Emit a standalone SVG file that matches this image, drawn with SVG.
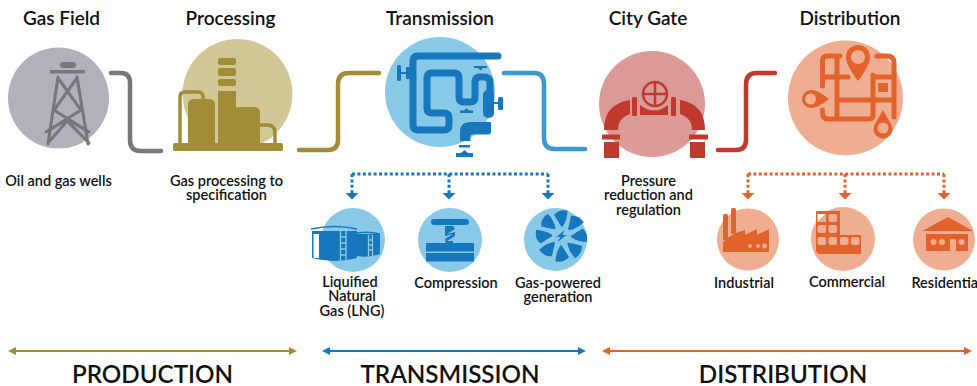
<svg xmlns="http://www.w3.org/2000/svg" width="977" height="386" viewBox="0 0 977 386">
<style>
text{font-family:"Lato","Open Sans","Liberation Sans",sans-serif;fill:#111;text-anchor:middle}
.t{font-size:19px;font-weight:600}
.l{font-size:14.500px;font-weight:600}
.s{font-size:24.200px;font-weight:600}
.c{fill:none;stroke-linecap:round;stroke-width:4.5}
.d{fill:none;stroke-width:3;stroke-dasharray:3 2.4}
.h{fill:none;stroke-width:2}
.gr{fill:#77767a}.go{fill:#a28c35}.bl{fill:#1777bc}.re{fill:#c0392d}.or{fill:#e2622c}
.lb{fill:#89c9e8}.lo{fill:#efae92}
</style>
<defs>
<marker id="mg" viewBox="0 0 10 10" refX="5" refY="5" markerWidth="4" markerHeight="4" orient="auto-start-reverse"><path d="M0 0L10 5L0 10Z" fill="#a28c35"/></marker>
<marker id="mb" viewBox="0 0 10 10" refX="5" refY="5" markerWidth="4" markerHeight="4" orient="auto-start-reverse"><path d="M0 0L10 5L0 10Z" fill="#1777bc"/></marker>
<marker id="mo" viewBox="0 0 10 10" refX="5" refY="5" markerWidth="4" markerHeight="4" orient="auto-start-reverse"><path d="M0 0L10 5L0 10Z" fill="#e2622c"/></marker>
<path id="ah" d="M-6.5 0H6.5L0 6.5Z"/>
<path id="blade" d="M-0.500 -10L-7.500 -21Q-3 -27 6 -25.500Q6 -17 1.500 -10Q0.500 -8.500 -0.500 -10Z" class="bl"/>
</defs>

<g id="connectors">
<path class="c" stroke="#77767a" d="M111 73H121Q130 73 130 83V140Q130 151 141 151H161"/>
<path class="c" stroke="#a28c35" d="M299 150H328Q338 150 338 140V84Q338 73 349 73H379"/>
<path class="c" stroke="#3a97d0" d="M504 73H534Q544 73 544 84V138Q544 149 555 149H585"/>
<path class="c" stroke="#c0392d" d="M718 150H736Q746 150 746 140V84Q746 73 757 73H775"/>
<path class="d" stroke="#1777bc" d="M352 174H548M352 174V193M449 174V193M548 174V193"/>
<g class="bl"><use href="#ah" x="352" y="193"/><use href="#ah" x="449" y="193"/><use href="#ah" x="548" y="193"/></g>
<path class="d" stroke="#e2622c" d="M748 174H944M748 174V193M845 174V193M944 174V193"/>
<g class="or"><use href="#ah" x="748" y="193"/><use href="#ah" x="845" y="193"/><use href="#ah" x="944" y="193"/></g>
<path class="h" stroke="#a28c35" marker-start="url(#mg)" marker-end="url(#mg)" d="M12 351H293"/>
<path class="h" stroke="#1777bc" marker-start="url(#mb)" marker-end="url(#mb)" d="M326 351H582"/>
<path class="h" stroke="#e2622c" marker-start="url(#mo)" marker-end="url(#mo)" d="M606 351H968"/>
</g>

<g id="gas-field">
<circle cx="58.5" cy="98" r="50.5" fill="#b3afbb"/>
<rect x="60" y="62" width="16" height="6" rx="3" class="gr"/>
<rect x="50" y="70" width="35" height="3.5" rx="1" class="gr"/>
<path fill="none" stroke="#77767a" stroke-width="3" stroke-linecap="round" d="M58 77L48 144M77 77L88 144M58 78L81 110L46 132M77 78L54 110L89 132M46 132L66 120L89 143M89 132L68 120L48 143"/>
<text class="t" x="61.5" y="25">Gas Field</text>
<text class="l" x="58.500" y="186">Oil and gas wells</text>
</g>

<g id="processing">
<circle cx="237.500" cy="94" r="55" fill="#d1c797"/>
<g class="go">
<rect x="173" y="143" width="110" height="8" rx="2"/>
<path d="M188 143V105Q188 99 194 99H209Q215 99 215 105V143Z"/>
<path d="M233 143V113Q233 107 239 107H254Q260 107 260 113V143Z"/>
<rect x="218" y="58" width="18" height="7" rx="2"/><rect x="218" y="68" width="18" height="8" rx="2"/><rect x="218" y="79" width="18" height="7" rx="2"/>
<path d="M218 143V91H236V143Z"/>
</g>
<path fill="none" stroke="#a28c35" stroke-width="3.500" d="M180 143V97Q180 92 185 92H198Q203 92 203 97V99M260 125H267Q275 125 275 133V143"/>
<text class="t" x="230.500" y="25">Processing</text>
<text class="l" x="226.500" y="186">Gas processing to</text>
<text class="l" x="226.500" y="200">specification</text>
</g>

<g id="transmission">
<circle cx="440" cy="92" r="55" fill="#89c9e8"/>
<path fill="none" stroke="#1777bc" stroke-width="7" stroke-linecap="round" d="M498 56H418Q413 56 413 61V125Q413 130 418 130H444Q449 130 449 125V118Q449 113 444 113H432Q427 113 427 108V78Q427 73 432 73H454Q459 73 459 78V97Q459 102 464 102H470Q475 102 475 97V82Q475 77 480 77H484Q490 77 490 83V92"/>
<g class="bl">
<rect x="483" y="90" width="11" height="28" rx="5"/>
<rect x="406" y="67" width="5" height="12" rx="1"/><rect x="400" y="72" width="7" height="2"/><rect x="397" y="65" width="4" height="16" rx="1.500"/>
<rect x="493" y="102" width="6" height="2"/><rect x="498" y="97" width="5" height="13" rx="1.500"/>
<path d="M474 66H487V68H483L480.500 70.500L478 68H474Z"/>
<path d="M460 113H473V110.500H469L466.500 108L464 110.500H460Z"/>
<path d="M490 122Q491 122 491 124V132Q491 134.500 488 134.500H472Q470.500 134.500 470.500 136V141H460V132Q460 122 470 122Z"/>
<rect x="459" y="145" width="11" height="2.500"/>
<path d="M456 153H461L464.500 150L468 153H473V157H456Z"/>
</g>
<text class="t" x="440" y="25">Transmission</text>
</g>

<g id="city-gate">
<circle cx="652" cy="104" r="53" fill="#dc9a96"/>
<g class="re">
<path d="M630 100Q604 104 604 130H618Q618 118 630 114Z"/>
<path d="M680 100Q705 104 705 130H692Q692 118 680 114Z"/>
<rect x="632" y="97" width="5" height="19" rx="1.500"/><rect x="671" y="97" width="5" height="19" rx="1.500"/>
<rect x="602" y="134.500" width="18" height="5"/><rect x="689" y="134.500" width="19" height="5"/>
<rect x="604" y="142" width="15" height="16"/><rect x="690" y="142" width="15" height="16"/>
<path d="M640 105Q654 116 668 105V115H640Z"/>
</g>
<g fill="none" stroke="#c0392d" stroke-width="2.500"><circle cx="655" cy="94" r="12"/><path d="M643 94H667M655 82V106"/></g>
<text class="t" x="648" y="25">City Gate</text>
<text class="l" x="648.500" y="186">Pressure</text>
<text class="l" x="648.500" y="200">reduction and</text>
<text class="l" x="648.500" y="215">regulation</text>
</g>

<g id="distribution">
<circle cx="845.500" cy="98" r="57.500" fill="#efae92"/>
<path fill="none" stroke="#e2622c" stroke-width="5" stroke-linecap="round" d="M840 56H827Q822.500 56 822.500 60.500V86M822.500 110V113Q822.500 119 828 119H869Q873 119 873 115V75M837 58V118M823 77H848M838 100H893M873 77H893M877 56H887Q894 56 894 63V117"/>
<rect x="878" y="83" width="10" height="9" class="or"/>
<g class="or">
<path d="M846 57A12 12 0 0 1 870 57Q870 65 858 81Q846 65 846 57Z"/>
<path d="M811 90A9 9 0 0 0 811 108Q818 108 829 99Q818 90 811 90Z"/>
<path d="M883 110L891 124A9.500 9.500 0 1 1 875 124Z"/>
</g>
<g class="lo"><circle cx="858" cy="57" r="7"/><circle cx="810.500" cy="99" r="5.500"/><circle cx="883" cy="128" r="5.500"/></g>
<text class="t" x="850" y="25">Distribution</text>
</g>

<g id="lng">
<circle cx="353" cy="240" r="32" class="lb"/>
<g class="bl">
<path d="M312 231H357V258Q335 264 312 258Z"/>
<path d="M357 234H380V254Q368 258 357 256Z"/>
</g>
<path fill="none" stroke="#1777bc" stroke-width="1.500" d="M311 229Q335 224 357 229M357 233Q369 231 380 234"/>
<rect x="313.500" y="234" width="5.500" height="24" fill="#fff"/>
<g fill="none" stroke="#89c9e8" stroke-width="1.300"><path d="M340.500 231V261M346 231V261M340.500 237H346M340.500 243H346M340.500 249H346M340.500 255H346M368.500 235V256M372.500 235V256M368.500 240H372.500M368.500 245H372.500M368.500 250H372.500"/></g>
<text class="l" x="350" y="287">Liquified</text>
<text class="l" x="352" y="301">Natural</text>
<text class="l" x="352" y="316">Gas (LNG)</text>
</g>

<g id="compression">
<circle cx="450" cy="240" r="32" class="lb"/>
<g class="bl">
<rect x="431" y="219" width="38" height="6" rx="3"/>
<rect x="426" y="243" width="48" height="8.500"/><rect x="426" y="253" width="48" height="8.500"/>
<path d="M445 226H453L455 229L447 234L455 232V236L447 241H453V243H446L445 239L453 234L445 236V231Z"/>
</g>
<text class="l" x="456" y="288">Compression</text>
</g>

<g id="gas-powered-generation">
<circle cx="555.500" cy="239.500" r="31.500" class="lb"/>
<g transform="translate(561.500 236)">
<use href="#blade"/><use href="#blade" transform="rotate(45)"/><use href="#blade" transform="rotate(90)"/><use href="#blade" transform="rotate(135)"/><use href="#blade" transform="rotate(180)"/><use href="#blade" transform="rotate(225)"/><use href="#blade" transform="rotate(270)"/><use href="#blade" transform="rotate(315)"/>
<path class="bl" d="M3 -6L-5 1L-1 1L-4 6L5 -1L1 -1Z"/>
</g>
<text class="l" x="558" y="288">Gas-powered</text>
<text class="l" x="558" y="302">generation</text>
</g>

<g id="industrial">
<circle cx="748" cy="239.500" r="31" class="lo"/>
<g class="or">
<rect x="723" y="214" width="5" height="26" rx="1.500"/><rect x="731" y="208" width="5" height="26" rx="1.500"/>
<path d="M723 252V242Q732 233 745 230V235L757 229V235L769 229V252Z"/>
</g>
<g class="lo"><circle cx="750" cy="246" r="2"/><circle cx="758" cy="246" r="2"/><circle cx="764.500" cy="246" r="2.500"/></g>
<text class="l" x="744" y="288">Industrial</text>
</g>

<g id="commercial">
<circle cx="843" cy="239" r="32" class="lo"/>
<path class="or" d="M816 211H840V235H861V254H820Q816 254 816 250Z"/>
<g class="lo">
<rect x="828.500" y="214" width="8.500" height="8" rx="2"/>
<rect x="817.500" y="225" width="8.500" height="8" rx="2"/><rect x="828.500" y="225" width="8.500" height="8" rx="2"/>
<rect x="817.500" y="237" width="8.500" height="8" rx="2"/><rect x="828.500" y="237" width="8.500" height="8" rx="2"/><rect x="840" y="237" width="8.500" height="8" rx="2"/><rect x="851" y="237" width="8.500" height="8" rx="2"/>
</g>
<path d="M817.500 214H826L817.500 222Z" fill="#fff"/>
<path d="M826 214V222H817.500Z" class="lo"/>
<text class="l" x="847" y="287">Commercial</text>
</g>

<g id="residential">
<circle cx="944" cy="239.500" r="31" class="lo"/>
<g class="or"><path d="M922 231L948 217L973 231Z"/><rect x="926" y="234" width="42" height="17"/></g>
<g class="lo"><circle cx="933.500" cy="242" r="3"/><circle cx="942" cy="242" r="3"/><circle cx="961.500" cy="242" r="3"/><rect x="950" y="239" width="6" height="12" rx="1.500"/></g>
<text class="l" x="946.500" y="288">Residential</text>
</g>

<g id="section-labels">
<text class="s" x="152.500" y="383">PRODUCTION</text>
<text class="s" x="450" y="383">TRANSMISSION</text>
<text class="s" x="783" y="383">DISTRIBUTION</text>
</g>
</svg>
